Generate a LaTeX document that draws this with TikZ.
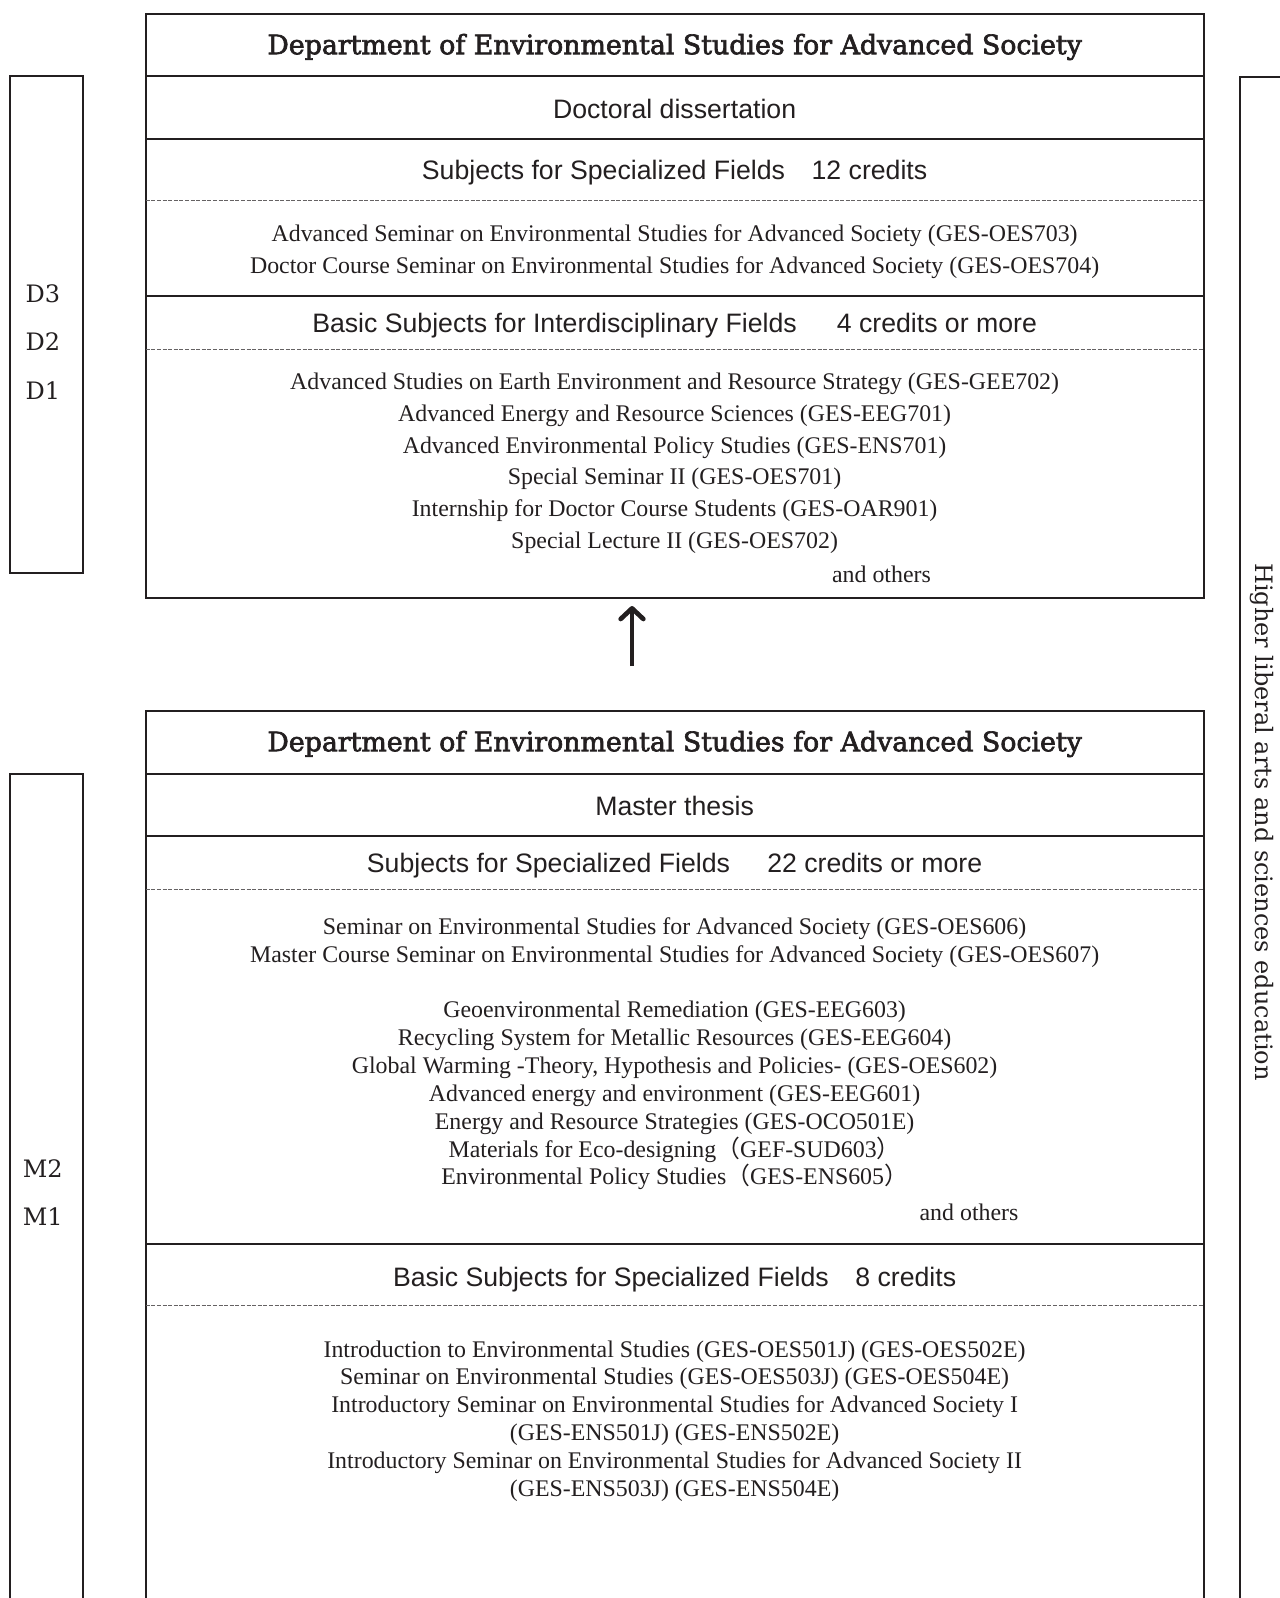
\documentclass[tikz,border=0pt]{standalone}
\usepackage{fontspec}
\setmainfont{Liberation Serif}
\setsansfont{Liberation Sans}
\newfontfamily\cent{DejaVu Serif}
\newfontfamily\ttlfont[FakeBold=2.4]{DejaVu Serif}
\newfontfamily\cjk{Noto Sans CJK JP}
\usetikzlibrary{arrows.meta}
\definecolor{ink}{HTML}{231F20}
\begin{document}
\begin{tikzpicture}[x=0.75pt,y=-0.75pt,
  boxline/.style={line width=1.5pt, draw=ink},
  dashline/.style={line width=0.75pt, draw=ink!70, dash pattern=on 3pt off 1.2pt},
  head/.style={font=\sffamily\fontsize{20}{24}\selectfont, inner sep=0, text=ink},
  item/.style={font=\fontsize{17.9}{23.7}\selectfont, align=center, inner sep=0, text=ink},
  itemb/.style={font=\fontsize{17.9}{20.9}\selectfont, align=center, inner sep=0, text=ink},
  ttl/.style={font=\ttlfont\fontsize{20.1}{23}\selectfont, inner sep=0, text=ink},
  lvl/.style={font=\cent\fontsize{18}{22}\selectfont, inner sep=0, text=ink}
]
\useasboundingbox (0,0) rectangle (1280,1598);
\clip (0,0) rectangle (1280,1598);

% ---------- upper (doctoral) box ----------
\draw[boxline] (145.7,14.3) rectangle (1203.6,598.2);
\draw[boxline] (145.7,76.4) -- (1203.6,76.4);
\draw[boxline] (145.7,138.6) -- (1203.6,138.6);
\draw[dashline] (145.7,200.8) -- (1203.6,200.8);
\draw[boxline] (145.7,295.5) -- (1203.6,295.5);
\draw[dashline] (145.7,349.6) -- (1203.6,349.6);

\node[ttl] (t1) at (674.6,47) {Department of Environmental Studies for Advanced Society};
\node[head] (dd) at (674.6,108.5) {Doctoral dissertation};
\node[head] (sf1) at (674.6,172.5) {Subjects for Specialized Fields\hspace{1em}12 credits};
\node[item] (sf1i) at (674.6,251.7) {Advanced Seminar on Environmental Studies for Advanced Society (GES-OES703)\\
Doctor Course Seminar on Environmental Studies for Advanced Society (GES-OES704)};
\node[head] (bi) at (674.6,325.5) {Basic Subjects for Interdisciplinary Fields\hspace{1.5em}4 credits or more};
\node[item,font=\fontsize{17.9}{23.85}\selectfont] (bii) at (674.6,463.3) {Advanced Studies on Earth Environment and Resource Strategy (GES-GEE702)\\
Advanced Energy and Resource Sciences (GES-EEG701)\\
Advanced Environmental Policy Studies (GES-ENS701)\\
Special Seminar II (GES-OES701)\\
Internship for Doctor Course Students (GES-OAR901)\\
Special Lecture II (GES-OES702)};
\node[item] (ao1) at (881.5,574.5) {and others};

% ---------- arrow ----------
\coordinate (arrS) at (632,666);
\coordinate (arrE) at (632,606);
\draw[line width=3.5pt, draw=ink, line cap=butt,
  -{Straight Barb[length=8pt,width=17pt,line cap=round,line join=round]}] (arrS) -- (arrE);

% ---------- lower (master) box ----------
\draw[boxline] (145.7,1620) -- (145.7,711.3) -- (1203.6,711.3) -- (1203.6,1620);
\draw[boxline] (145.7,773.5) -- (1203.6,773.5);
\draw[boxline] (145.7,835.7) -- (1203.6,835.7);
\draw[dashline] (145.7,889.7) -- (1203.6,889.7);
\draw[boxline] (145.7,1244.3) -- (1203.6,1244.3);
\draw[dashline] (145.7,1305.5) -- (1203.6,1305.5);

\node[ttl] (t2) at (674.6,744) {Department of Environmental Studies for Advanced Society};
\node[head] (mt) at (674.6,806) {Master thesis};
\node[head] (sf2) at (674.6,865.2) {Subjects for Specialized Fields\hspace{1.4em}22 credits or more};
\node[itemb] (sf2i) at (674.6,1053.7) {Seminar on Environmental Studies for Advanced Society (GES-OES606)\\
Master Course Seminar on Environmental Studies for Advanced Society (GES-OES607)\\
\mbox{}\\
Geoenvironmental Remediation (GES-EEG603)\\
Recycling System for Metallic Resources (GES-EEG604)\\
Global Warming -Theory, Hypothesis and Policies- (GES-OES602)\\
Advanced energy and environment (GES-EEG601)\\
Energy and Resource Strategies (GES-OCO501E)\\
Materials for Eco-designing{\cjk （}GEF-SUD603{\cjk ）}\\
Environmental Policy Studies{\cjk （}GES-ENS605{\cjk ）}};
\node[item] (ao2) at (969,1212) {and others};
\node[head] (bs) at (674.6,1279.5) {Basic Subjects for Specialized Fields\hspace{1em}8 credits};
\node[itemb] (bsi) at (674.6,1421) {Introduction to Environmental Studies (GES-OES501J) (GES-OES502E)\\
Seminar on Environmental Studies (GES-OES503J) (GES-OES504E)\\
Introductory Seminar on Environmental Studies for Advanced Society I\\
(GES-ENS501J) (GES-ENS502E)\\
Introductory Seminar on Environmental Studies for Advanced Society II\\
(GES-ENS503J) (GES-ENS504E)};

% ---------- left level boxes ----------
\draw[boxline] (10.2,76.4) rectangle (82.5,572.7);
\node[lvl] (d3) at (42.8,293.5) {D3};
\node[lvl] (d2) at (42.8,341.4) {D2};
\node[lvl] (d1) at (42.8,390.3) {D1};
\draw[boxline] (10.2,1620) -- (10.2,773.5) -- (82.5,773.5) -- (82.5,1620);
\node[lvl] (m2) at (42.8,1169) {M2};
\node[lvl] (m1) at (42.8,1216.8) {M1};

% ---------- right box ----------
\draw[boxline] (1240.3,1620) -- (1240.3,76.7) -- (1300,76.7);
\node[lvl,rotate=-90] (hl) at (1261.5,822) {Higher liberal arts and sciences education};
\end{tikzpicture}
\end{document}
